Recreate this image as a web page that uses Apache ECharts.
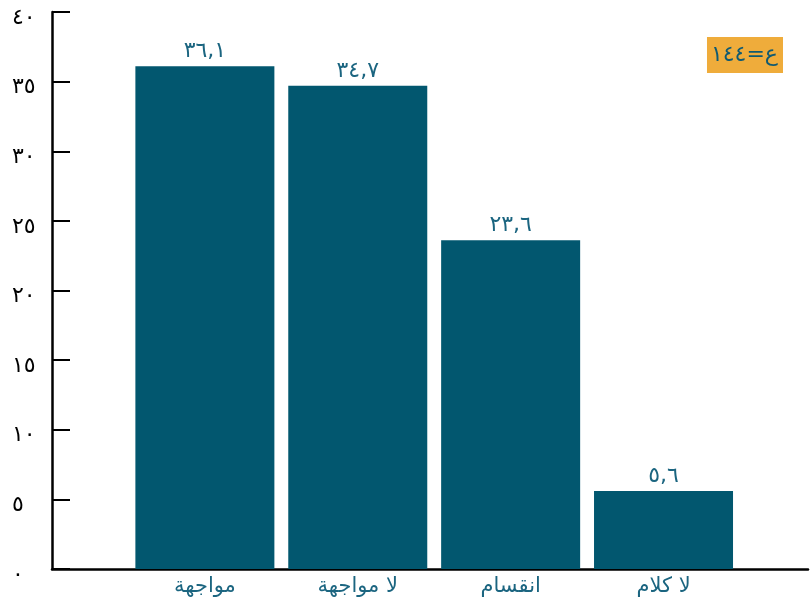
<!DOCTYPE html>
<html>
<head>
<meta charset="utf-8">
<script src="https://cdn.jsdelivr.net/npm/echarts@6/dist/echarts.min.js"></script>
<style>
html,body{margin:0;padding:0;background:#fff;}
#chart{width:811px;height:606px;}
</style>
</head>
<body>
<div id="chart"></div>
<script>
const categories = ['مواجهة', 'لا مواجهة', 'انقسام', 'لا كلام'];
const values = [36.1, 34.7, 23.6, 5.6];
const valueLabels = ['٣٦,١', '٣٤,٧', '٢٣,٦', '٥,٦'];
const yTickLabels = ['٠', '٥', '١٠', '١٥', '٢٠', '٢٥', '٣٠', '٣٥', '٤٠'];
const sampleNote = 'ع=١٤٤';

const FONT = '"DejaVu Sans", sans-serif';
const BAR = '#02576f';
const TEXT = '#1b6580';

const chart = echarts.init(document.getElementById('chart'));
chart.setOption({
  animation: false,
  title: {
    text: sampleNote,
    right: 28,
    top: 37,
    backgroundColor: '#efac3b',
    padding: [7, 5, 7, 4],
    textStyle: { fontFamily: FONT, fontSize: 22, fontWeight: 'normal', color: '#0f5a72' }
  },
  grid: { left: 52, right: 0, top: 12, bottom: 37, containLabel: false },
  xAxis: {
    type: 'value',
    min: 0,
    max: 4.945,
    interval: 1,
    splitLine: { show: false },
    axisTick: { show: false },
    axisLine: { show: true, onZero: false, lineStyle: { color: '#000', width: 2.5 } },
    axisLabel: {
      margin: 7,
      fontFamily: FONT,
      fontSize: 21,
      color: TEXT,
      showMinLabel: false,
      formatter: function (v) {
        const i = Math.round(v) - 1;
        return (Math.abs(v - Math.round(v)) < 1e-6 && i >= 0 && i < categories.length) ? categories[i] : '';
      }
    }
  },
  yAxis: {
    type: 'value',
    min: 0,
    max: 40,
    interval: 5,
    splitLine: { show: false },
    axisLine: { show: true, lineStyle: { color: '#000', width: 2.5 } },
    axisTick: { show: true, inside: true, length: 18, lineStyle: { color: '#000', width: 2 } },
    axisLabel: {
      align: 'left',
      verticalAlign: 'top',
      lineHeight: 12,
      margin: 40,
      fontFamily: FONT,
      fontSize: 22,
      color: '#000',
      formatter: function (v) { return yTickLabels[Math.round(v / 5)]; }
    }
  },
  series: [{
    type: 'bar',
    barWidth: 139,
    itemStyle: { color: BAR },
    data: values.map(function (v, i) { return [i + 1, v]; }),
    label: {
      show: true,
      position: 'top',
      distance: 4,
      fontFamily: FONT,
      fontSize: 22,
      color: TEXT,
      formatter: function (p) { return valueLabels[p.dataIndex]; }
    }
  }]
});
</script>
</body>
</html>
